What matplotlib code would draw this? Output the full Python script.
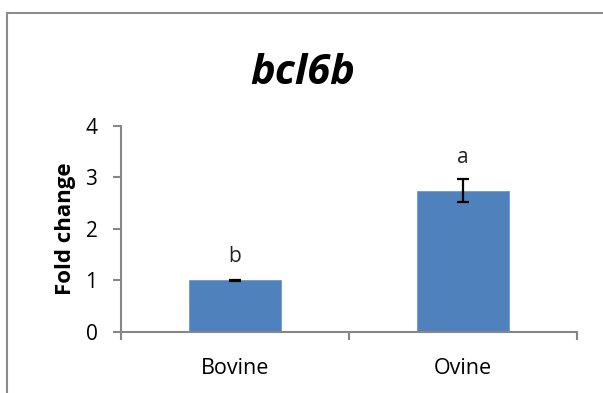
import matplotlib
matplotlib.use("Agg")
import matplotlib.pyplot as plt
from matplotlib.patches import Rectangle

# Expression data
categories = ["Bovine", "Ovine"]
fold_change = [1.00, 2.74]
errors = [0.01, 0.23]
letters = ["b", "a"]
letter_y = [1.36, 3.27]
y_ticks = [0, 1, 2, 3, 4]

FONT = "Open Sans"
GRAY = "#868686"
BLUE = "#4F81BD"

fig = plt.figure(figsize=(6.03, 3.93), dpi=100)

# Chart area frame (continues past the right and bottom edges)
fig.patches.append(Rectangle((7 / 603, -0.1), 1.2, (393 - 13) / 393 + 0.1,
                             transform=fig.transFigure, fill=False,
                             edgecolor="#8C8C8C", linewidth=1.5))

ax = fig.add_axes([121 / 603, (393 - 332) / 393, 456 / 603, (332 - 125.5) / 393])

x = list(range(len(categories)))
ax.bar(x, fold_change, width=0.4, color=BLUE, edgecolor="#6E98CC", linewidth=0.6,
       zorder=2)
ax.errorbar(x, fold_change, yerr=errors, fmt="none", ecolor="black",
            elinewidth=1.6, capsize=4.5, capthick=1.6, zorder=3)

for xi, lab, ly in zip(x, letters, letter_y):
    ax.text(xi, ly, lab, ha="center", va="baseline", fontsize=15,
            family=FONT, color="#222222")

ax.set_xlim(-0.5, 1.5)
ax.set_ylim(0, 4)
ax.set_yticks(y_ticks)
ax.set_yticklabels([str(t) for t in y_ticks], family=FONT, fontsize=15)
ax.set_xticks([-0.5, 0.5, 1.5], minor=False)
ax.set_xticklabels(["", "", ""])
ax.set_xticks(x, minor=True)
ax.set_xticklabels(categories, minor=True, family=FONT, fontsize=15.5)
ax.tick_params(axis="x", which="minor", length=0, pad=19)
ax.tick_params(axis="x", which="major", length=6, width=1.5, color=GRAY,
               direction="out")
ax.tick_params(axis="y", length=6, width=1.5, color=GRAY, direction="out",
               pad=11)

for side in ("top", "right"):
    ax.spines[side].set_visible(False)
for side in ("left", "bottom"):
    ax.spines[side].set_color(GRAY)
    ax.spines[side].set_linewidth(1.5)

ax.set_ylabel("Fold change", family=FONT, fontweight="bold", fontsize=16,
              labelpad=7)

fig.text(303 / 603, 1 - 73 / 393, "bcl6b", ha="center", va="center",
         family=FONT, fontweight="bold", fontstyle="italic", fontsize=30)

fig.savefig("out.png", dpi=100)
